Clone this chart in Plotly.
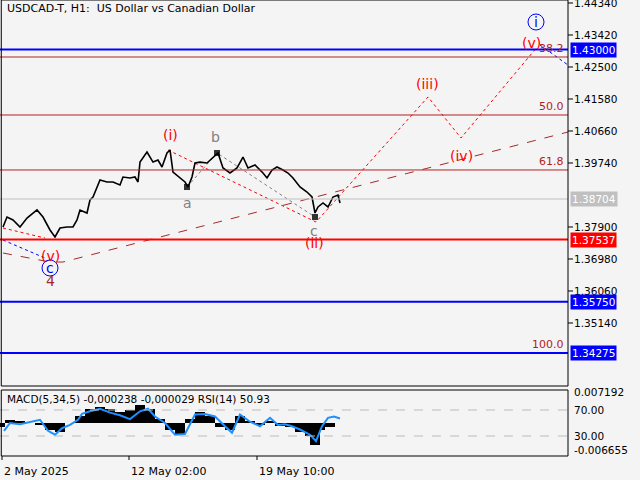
import plotly.graph_objects as go

# bar index (≈ H1 bars) and close prices
bars = [3,7,13,20,27,37,43,50,55,60,67,73,77,80,87,90,93,100,107,113,120,123,130,135,138,140,147,153,158,162,167,170,173,180,185,188,192,195,200,207,213,218,223,230,237,243,248,255,263,267,272,277,283,288,293,300,307,312,315,318,323,328,333,338,340]
close = [1.37900,1.38187,1.38101,1.37900,1.38158,1.38389,1.38187,1.37814,1.37612,1.37871,1.37900,1.37900,1.38101,1.38389,1.38302,1.38676,1.38762,1.39251,1.39194,1.39194,1.39107,1.39337,1.39309,1.39337,1.39194,1.39766,1.40056,1.39766,1.39826,1.39625,1.40028,1.40114,1.39481,1.39309,1.39194,1.39050,1.39337,1.39740,1.39766,1.39740,1.39884,1.40028,1.39596,1.39452,1.39596,1.39912,1.39596,1.39683,1.39452,1.39309,1.39539,1.39625,1.39539,1.39452,1.39309,1.39050,1.38906,1.38762,1.38302,1.38475,1.38590,1.38475,1.38762,1.38820,1.38590]

rsi_x = [4,10,20,30,40,48,55,62,70,78,82,90,100,110,120,130,140,148,155,165,175,185,195,205,215,225,232,240,250,260,270,278,285,292,300,310,316,322,328,334,340]
rsi = [38,50,48,52,55,38,32,42,47,55,64,68,72,66,62,56,68,72,60,50,32,33,63,64,60,45,35,63,52,45,58,47,48,45,40,32,22,45,58,60,57]
macd_x = [0,10,20,30,40,50,60,70,80,90,100,110,120,130,140,150,160,170,180,190,200,210,220,230,240,250,260,270,280,290,300,310,315,320,330,340]
macd = [-0.001,0.0008,0.0005,0.0,-0.0005,-0.002,-0.0025,0.0,0.002,0.004,0.0045,0.004,0.003,0.0035,0.005,0.004,0.001,-0.002,-0.003,0.001,0.003,0.002,-0.001,-0.002,0.002,0.0005,-0.0005,0.0005,-0.0008,-0.001,-0.0025,-0.0035,-0.006,-0.002,-0.001,0.0]

ticks = [1.44340,1.43420,1.42500,1.41580,1.40660,1.39740,1.37900,1.36980,1.36060,1.35140]
date_x = [2,129,257]
date_lbl = ["2 May 2025","12 May 02:00","19 May 10:00"]

levels = [(1.43000,"#0000ff",2,"1.43000","#0000ff","white"),
          (1.38704,"#c0c0c0",1,"1.38704","#c0c0c0","white"),
          (1.37537,"#ff0000",2,"1.37537","#ff0000","white"),
          (1.35750,"#0000ff",2,"1.35750","#0000ff","white"),
          (1.34275,"#0000ff",2,"1.34275","#0000ff","white")]
fibo = [(1.42787,"38.2"),(1.41120,"50.0"),(1.39539,"61.8"),(1.34275,"100.0")]

F = "DejaVu Sans"
XR = 570/640
fig = go.Figure()
for p, t in fibo:
    fig.add_shape(type="line", x0=0, x1=568, y0=p, y1=p, line=dict(color="#b22222", width=1), xref="x", yref="y")
    fig.add_annotation(x=566, y=p, text=t, showarrow=False, xanchor="right", yanchor="bottom",
                       font=dict(family=F, size=11, color="#b22222"))
for t in ticks:
    fig.add_annotation(x=XR + 2/640, y=t, xref="paper", yref="y", text=f"{t:.5f}", showarrow=False, xanchor="left",
                       font=dict(family=F, size=10.5, color="black"))
    fig.add_shape(type="line", xref="paper", yref="y", x0=568/640, x1=573/640, y0=t, y1=t, line=dict(color="black", width=1))
for p, c, w, t, bg, fc in levels:
    fig.add_shape(type="line", x0=0, x1=568, y0=p, y1=p, line=dict(color=c, width=w), xref="x", yref="y")
    fig.add_annotation(x=XR, y=p, text=t, showarrow=False, xanchor="left", xref="paper", yref="y",
                       bgcolor=bg, font=dict(family=F, size=10.5, color=fc), borderpad=1)

def line(xs, ys, color, dash="dot", width=1):
    fig.add_trace(go.Scatter(x=xs, y=ys, mode="lines", line=dict(color=color, dash=dash, width=width),
                             hoverinfo="skip", showlegend=False))

line([3,45], [1.37871,1.37583], "#ff0000")
line([168,316,428,461,535], [1.40114,1.38043,1.41638,1.40459,1.43000], "#ff0000")
line([3,50,63,568], [1.37152,1.36893,1.36893,1.40631], "#a52a2a", "dash")
line([3,45], [1.37525,1.37008], "#0000ff")
line([540,568], [1.43134,1.42557], "#0000ff")
line([187,217,315], [1.39050,1.40028,1.38187], "#808080")
fig.add_trace(go.Scatter(x=[187,217,315], y=[1.39050,1.40028,1.38187], mode="markers",
                         marker=dict(symbol="square", size=6, color="#333"), showlegend=False))
fig.add_trace(go.Scatter(x=bars, y=close, mode="lines", line=dict(color="black", width=1.6), showlegend=False))

labels = [(170,135,"(i)","#ff0000"),(215,137,"b","#808080"),(187,203,"a","#808080"),(314,231,"c","#808080"),
          (314,243,"(ii)","#ff0000"),(427,84,"(iii)","#ff0000"),(461,156,"(iv)","#ff0000"),
          (531,43,"(v)","#ff0000"),(50,256,"(v)","#ff0000"),(50,281,"4","#a52a2a")]
for x, ypx, t, c in labels:
    fig.add_annotation(x=x, y=1.44426-ypx*0.0002875, text=t, showarrow=False,
                       font=dict(family=F, size=14, color=c))
for x, ypx, t in [(536,22,"i"),(50,268,"c")]:
    fig.add_annotation(x=x, y=1.44426-ypx*0.0002875, text=t, showarrow=False,
                       font=dict(family=F, size=14, color="#0000ff"))
    fig.add_shape(type="circle", xref="x", yref="y", x0=x-8, x1=x+8,
                  y0=1.44426-(ypx+8)*0.0002875, y1=1.44426-(ypx-8)*0.0002875, line=dict(color="#0000ff", width=1))
fig.add_annotation(x=5, y=1.0, xref="x", yref="paper", text="USDCAD-T, H1:  US Dollar vs Canadian Dollar",
                   showarrow=False, xanchor="left", yanchor="top", font=dict(family=F, size=11, color="black"))

# indicator panel
fig.add_trace(go.Bar(x=macd_x, y=macd, width=10, marker=dict(color="black", line_width=0),
                     xaxis="x", yaxis="y2", showlegend=False))
fig.add_trace(go.Scatter(x=rsi_x, y=rsi, mode="lines", line=dict(color="#1e90ff", width=2),
                         xaxis="x", yaxis="y3", showlegend=False))
for v in [30, 70]:
    fig.add_shape(type="line", xref="x", yref="y3", x0=0, x1=568, y0=v, y1=v, line=dict(color="#bbb", dash="dash", width=1))
for v, t in [(98, "0.007192"), (70, "70.00"), (30, "30.00"), (8, "-0.006655")]:
    fig.add_annotation(x=XR + 2/640, y=v, xref="paper", yref="y3", text=t, showarrow=False, xanchor="left",
                       font=dict(family=F, size=10.5, color="black"))
fig.add_annotation(x=5, y=100, xref="x", yref="y3", text="MACD(5,34,5) -0,000238 -0,000029 RSI(14) 50.93",
                   showarrow=False, xanchor="left", yanchor="top", font=dict(family=F, size=10.5, color="black"))
for x, t in zip(date_x, date_lbl):
    fig.add_annotation(x=x, y=0.0, xref="x", yref="paper", text=t, showarrow=False, xanchor="left", yanchor="bottom",
                       font=dict(family=F, size=11, color="black"))
    fig.add_shape(type="line", xref="x", yref="paper", x0=x, x1=x, y0=24/480, y1=20/480, line=dict(color="black", width=1))

fig.add_shape(type="rect", xref="paper", yref="paper", x0=0.002, x1=568/640, y0=94/480, y1=1, line=dict(color="black", width=1))
fig.add_shape(type="rect", xref="paper", yref="paper", x0=0.002, x1=568/640, y0=24/480, y1=90/480, line=dict(color="black", width=1))

fig.update_layout(width=640, height=480, margin=dict(l=0, r=0, t=0, b=0),
                  paper_bgcolor="#f4f4f4", plot_bgcolor="#f4f4f4", bargap=0,
                  xaxis=dict(domain=[0, 568/640], range=[0, 568], visible=False, fixedrange=True),
                  yaxis=dict(domain=[94/480, 1], range=[1.44426-386*0.0002875, 1.44426], visible=False),
                  yaxis2=dict(domain=[24/480, 90/480], range=[-0.00914, 0.00914], visible=False),
                  yaxis3=dict(domain=[24/480, 90/480], range=[-0.8, 100.8], overlaying="y2", visible=False))
fig.write_html("out.html", config={"displayModeBar": False},
               post_script="document.body.style.margin='0';document.body.style.overflow='hidden';")
